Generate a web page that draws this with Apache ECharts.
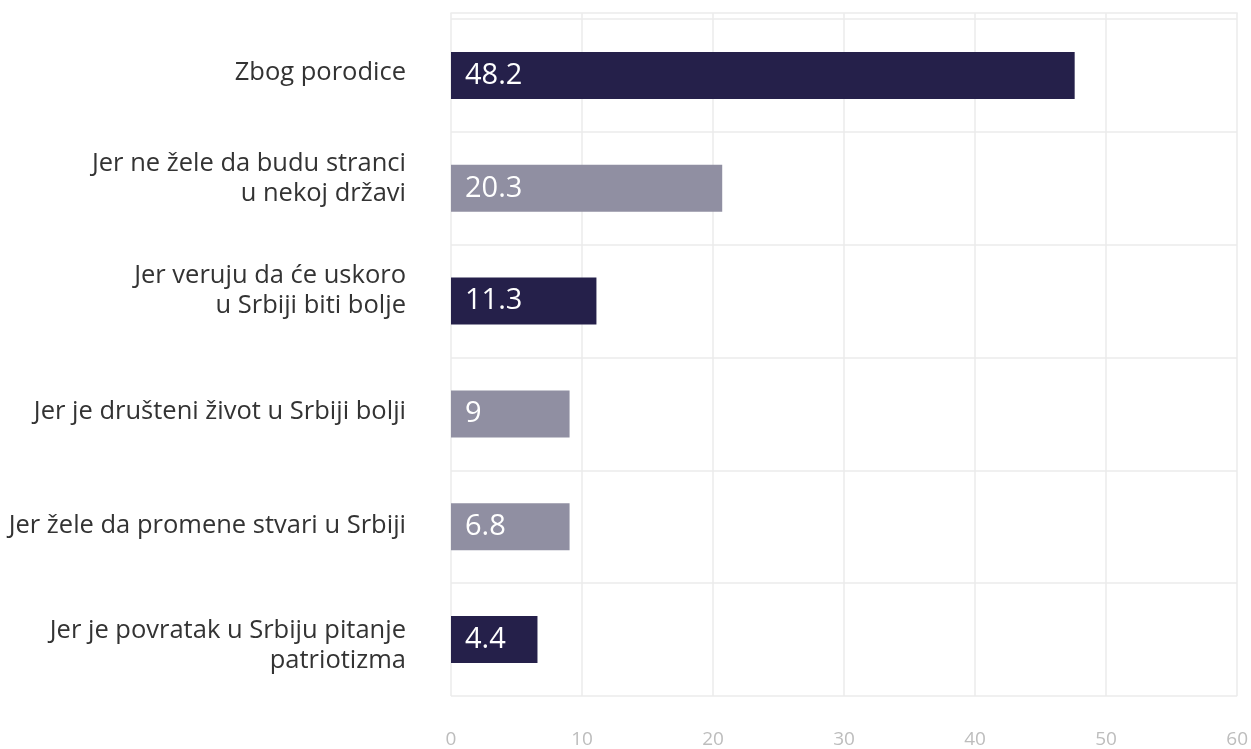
<!DOCTYPE html>
<html lang="sr">
<head>
<meta charset="utf-8">
<title>Razlozi povratka</title>
<style>
  html, body { margin: 0; padding: 0; background: #fff; }
  #main { width: 1251px; height: 749px; }
</style>
</head>
<body>
<div id="main"></div>
<script src="https://cdn.jsdelivr.net/npm/echarts@6/dist/echarts.min.js"></script>
<script>
// kategorije, odozgo nadole
var categories = [
    'Zbog porodice',
    'Jer ne žele da budu stranci\nu nekoj državi',
    'Jer veruju da će uskoro\nu Srbiji biti bolje',
    'Jer je društeni život u Srbiji bolji',
    'Jer žele da promene stvari u Srbiji',
    'Jer je povratak u Srbiju pitanje\npatriotizma'
];
// duzina stubica kako je nacrtana
var barValues = [47.6, 20.7, 11.1, 9.05, 9.05, 6.6];
// natpisi na stubicima
var barLabels = ['48.2', '20.3', '11.3', '9', '6.8', '4.4'];
var xTicks = [0, 10, 20, 30, 40, 50, 60];

// stil: boje stubica i pomeranje natpisa kategorija (px, + = nagore)
var barColors = ['#25204a', '#908fa2', '#25204a', '#908fa2', '#908fa2', '#25204a'];
var labelNudge = [3, 10, 10, 2, 1, -6];

var myChart = echarts.init(document.getElementById('main'));

var seriesData = [];
for (var i = 0; i < barValues.length; i++) {
    seriesData.push({
        value: barValues[i],
        label: { formatter: barLabels[i] },
        itemStyle: { color: barColors[i] }
    });
}

var catFont = { color: '#333', fontSize: 25.5, lineHeight: 30, fontFamily: 'Open Sans', align: 'right' };
var rich = { p: catFont };
for (var i = 0; i < labelNudge.length; i++) {
    var h = Math.abs(labelNudge[i]) * 2;
    if (h) rich['s' + h] = { fontSize: 1, lineHeight: h, color: 'rgba(0,0,0,0)' };
}

// prazan red ispod dize tekst, iznad ga spusta
function catFormatter(value, index) {
    var lines = value.split('\n');
    var out = [];
    for (var k = 0; k < lines.length; k++) {
        out.push('{p|' + lines[k] + '}');
    }
    var n = labelNudge[index];
    var spacer = '{s' + Math.abs(n) * 2 + '|\u00a0}';
    if (n > 0) out.push(spacer);
    if (n < 0) out.unshift(spacer);
    return out.join('\n');
}

var gridColor = '#ebebeb';

myChart.setOption({
    backgroundColor: '#fff',
    animation: false,
    textStyle: { fontFamily: 'Open Sans' },
    grid: {
        left: 451,
        right: 13,
        top: 19,
        bottom: 52
    },
    xAxis: [{
        type: 'value',
        min: xTicks[0],
        max: xTicks[xTicks.length - 1],
        interval: 10,
        axisLine: { show: false },
        axisTick: { show: false },
        splitLine: { show: true, lineStyle: { color: gridColor, width: 1.5 } },
        axisLabel: {
            margin: 34,
            color: '#bdbdbd',
            fontSize: 19,
            fontFamily: 'Open Sans'
        }
    }, {
        // gornja linija okvira, malo iznad mreze
        type: 'value',
        position: 'top',
        offset: 6,
        min: xTicks[0],
        max: xTicks[xTicks.length - 1],
        interval: 10,
        axisLine: { show: true, lineStyle: { color: gridColor, width: 1.5 } },
        axisTick: { show: true, inside: true, length: 6, lineStyle: { color: gridColor, width: 1.5 } },
        axisLabel: { show: false },
        splitLine: { show: false }
    }],
    yAxis: {
        type: 'category',
        inverse: true,
        data: categories,
        axisLine: { show: false },
        axisTick: { show: false },
        splitLine: { show: true, lineStyle: { color: gridColor, width: 1.5 } },
        axisLabel: {
            margin: 45,
            color: '#333',
            fontSize: 25.5,
            lineHeight: 30,
            align: 'right',
            fontFamily: 'Open Sans',
            formatter: catFormatter,
            rich: rich
        }
    },
    series: [{
        type: 'bar',
        barWidth: 47,
        data: seriesData,
        label: {
            show: true,
            position: 'insideLeft',
            offset: [9, 0],
            color: '#fff',
            fontSize: 29,
            fontFamily: 'Open Sans'
        }
    }]
});
</script>
</body>
</html>
